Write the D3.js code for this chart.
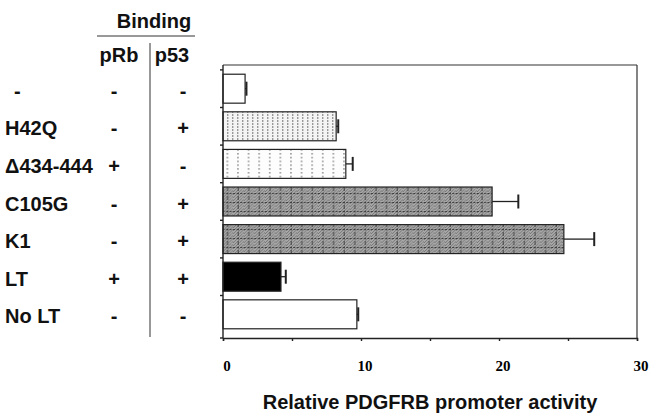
<!DOCTYPE html>
<html>
<head>
<meta charset="utf-8">
<script src="https://cdn.jsdelivr.net/npm/d3@7"></script>
<style>
html,body{margin:0;padding:0;background:#fff;}
svg{display:block;}
</style>
</head>
<body>
<svg id="chart" width="656" height="416"></svg>
<script>
const categories = ["-", "H42Q", "\u0394434-444", "C105G", "K1", "LT", "No LT"];
const values = [1.6, 8.2, 8.9, 19.5, 24.7, 4.2, 9.7];
const errors = [0.1, 0.15, 0.5, 1.9, 2.2, 0.35, 0.1];
const pRbBinding = ["-", "-", "+", "-", "-", "+", "-"];
const p53Binding = ["-", "+", "-", "+", "+", "+", "-"];
const fills = ["white", "vlines", "dots", "hatch", "hatch", "black", "white"];
const xTicks = [0, 10, 20, 30];

const svg = d3.select("#chart");
const defs = svg.append("defs");

// patterns
const pv = defs.append("pattern").attr("id","vlines").attr("patternUnits","userSpaceOnUse")
  .attr("width",5).attr("height",3);
pv.append("rect").attr("width",5).attr("height",3).attr("fill","#f4f4f4");
pv.append("rect").attr("x",2).attr("y",0).attr("width",1.4).attr("height",2).attr("fill","#999");

const pd = defs.append("pattern").attr("id","dots").attr("patternUnits","userSpaceOnUse")
  .attr("width",10.6).attr("height",3.8);
pd.append("rect").attr("width",10.6).attr("height",3.8).attr("fill","#fdfdfd");
pd.append("rect").attr("x",4).attr("y",1).attr("width",1.5).attr("height",1.5).attr("fill","#888");

const ph = defs.append("pattern").attr("id","hatch").attr("patternUnits","userSpaceOnUse")
  .attr("width",10.6).attr("height",9);
ph.append("rect").attr("width",10.6).attr("height",9).attr("fill","#a9a9a9");
[-9,-6,-3,0,3,6,9,12].forEach(o=>{
  ph.append("line").attr("x1",o).attr("y1",9).attr("x2",o+9).attr("y2",0)
    .attr("stroke","#6e6e6e").attr("stroke-width",0.9);
});
ph.append("line").attr("x1",0).attr("y1",4.5).attr("x2",10.6).attr("y2",4.5)
  .attr("stroke","#333").attr("stroke-width",0.9).attr("stroke-dasharray","2,1.5");
ph.append("line").attr("x1",5).attr("y1",0).attr("x2",5).attr("y2",9)
  .attr("stroke","#333").attr("stroke-width",0.9).attr("stroke-dasharray","2,1.5");

const x = d3.scaleLinear().domain([0,30]).range([223,637]);
const y = d3.scaleBand().domain(categories).range([65,338]).paddingInner(0.23).paddingOuter(0.245);

const fillOf = f => f==="white" ? "#fff" : f==="black" ? "#000" : `url(#${f})`;

// frame top & right
svg.append("line").attr("x1",223).attr("x2",637).attr("y1",65).attr("y2",65).attr("stroke","#333").attr("stroke-width",1.2);
svg.append("line").attr("x1",637).attr("x2",637).attr("y1",65).attr("y2",338).attr("stroke","#333").attr("stroke-width",1.2);

// bars
const rows = categories.map((c,i)=>({c, v:values[i], e:errors[i], f:fills[i]}));
svg.append("g").selectAll("rect").data(rows).join("rect")
  .attr("x", x(0)).attr("y", d=>y(d.c)).attr("width", d=>x(d.v)-x(0)).attr("height", y.bandwidth())
  .attr("fill", d=>fillOf(d.f)).attr("stroke","#222").attr("stroke-width",1.2);

// error bars
const eg = svg.append("g").attr("stroke","#222").attr("stroke-width",1.3);
rows.forEach(d=>{
  const cy = y(d.c)+y.bandwidth()/2;
  eg.append("line").attr("x1",x(d.v)).attr("x2",x(d.v+d.e)).attr("y1",cy).attr("y2",cy);
  eg.append("line").attr("x1",x(d.v+d.e)).attr("x2",x(d.v+d.e)).attr("y1",cy-7).attr("y2",cy+7).attr("stroke-width",2);
});

// x axis
const xAxis = d3.axisBottom(x).tickValues(d3.range(0,31,5)).tickSize(3).tickFormat("");
const gx = svg.append("g").attr("transform","translate(0,338)").call(xAxis);
gx.select(".domain").attr("stroke","#222").attr("stroke-width",1.4);
gx.selectAll(".tick line").attr("stroke","#222").attr("stroke-width",1.4);
svg.append("g").selectAll("text").data(xTicks).join("text")
  .attr("x", d=>x(d)+4).attr("y",371).attr("text-anchor","middle")
  .attr("font-family","Liberation Serif, serif").attr("font-weight","bold").attr("font-size",15)
  .text(d=>d);

// y axis line with band-boundary ticks
const yBounds = categories.map(c=>y(c)-y.step()*y.paddingInner()/2).concat([338]);
svg.append("line").attr("x1",223).attr("x2",223).attr("y1",65).attr("y2",338).attr("stroke","#222").attr("stroke-width",1.4);
svg.append("g").selectAll("line").data(yBounds).join("line")
  .attr("x1",220).attr("x2",223).attr("y1",d=>d).attr("y2",d=>d).attr("stroke","#222").attr("stroke-width",1.4);

// axis title
svg.append("text").attr("x",430).attr("y",409).attr("text-anchor","middle")
  .attr("font-family","Liberation Sans, Arial, sans-serif").attr("font-weight","bold").attr("font-size",20)
  .attr("fill","#111").text("Relative PDGFRB promoter activity");

// left table
const font = "Liberation Sans, Arial, sans-serif";
const tg = svg.append("g").attr("font-family",font).attr("font-weight","bold").attr("fill","#111");
tg.append("text").attr("x",154).attr("y",28).attr("text-anchor","middle").attr("font-size",20).text("Binding");
svg.append("line").attr("x1",97).attr("x2",195).attr("y1",36).attr("y2",36).attr("stroke","#333").attr("stroke-width",1);
tg.append("text").attr("x",119).attr("y",62).attr("text-anchor","middle").attr("font-size",20).text("pRb");
tg.append("text").attr("x",172).attr("y",62).attr("text-anchor","middle").attr("font-size",20).text("p53");
svg.append("line").attr("x1",150).attr("x2",150).attr("y1",43).attr("y2",337).attr("stroke","#333").attr("stroke-width",1);

categories.forEach((c,i)=>{
  const cy = y(c)+y.bandwidth()/2 + 9;
  tg.append("text").attr("x", c==="-" ? 14 : 5).attr("y",cy).attr("font-size",20).text(c);
  tg.append("text").attr("x",114).attr("y",cy).attr("text-anchor","middle").attr("font-size",20).text(pRbBinding[i]);
  tg.append("text").attr("x",183).attr("y",cy).attr("text-anchor","middle").attr("font-size",20).text(p53Binding[i]);
});
</script>
</body>
</html>
